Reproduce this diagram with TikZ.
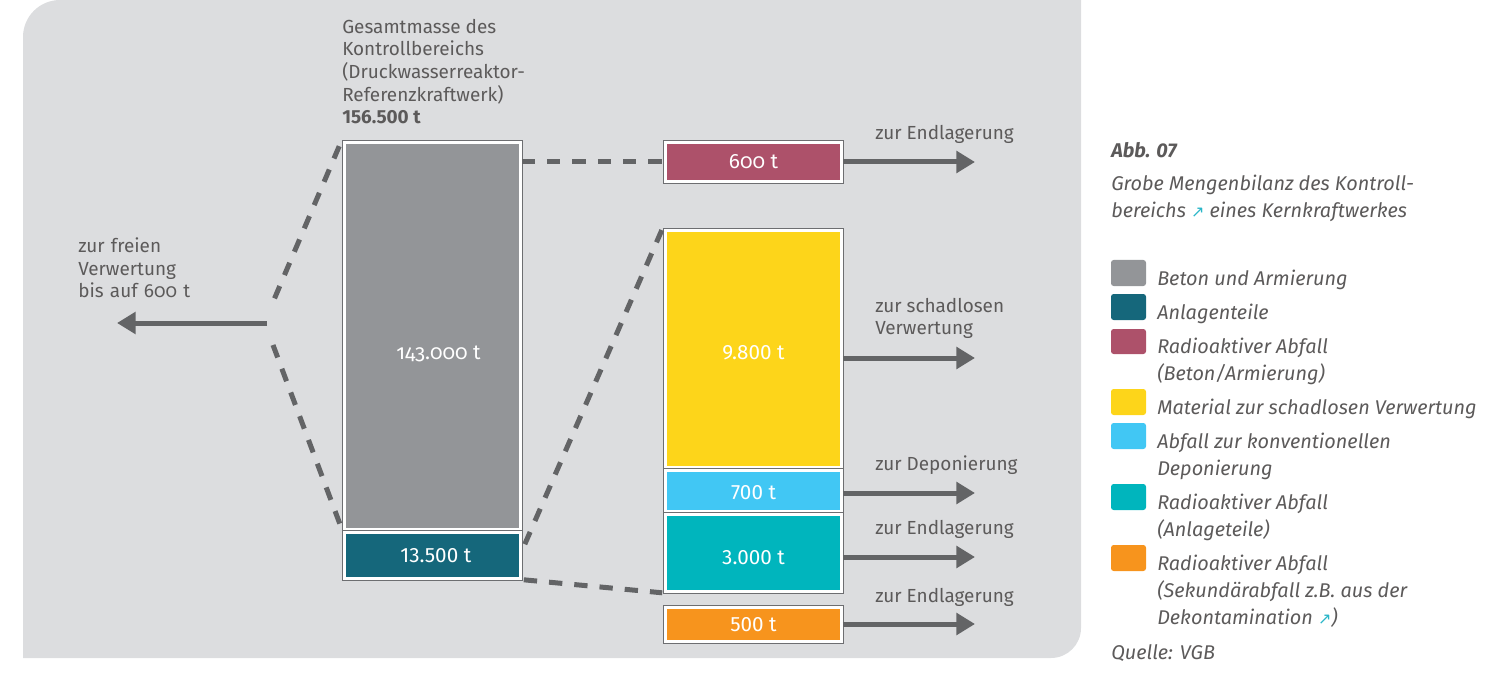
\documentclass[tikz,border=0pt]{standalone}
\usepackage{fontspec}
\setmainfont{Fira Sans}
\newfontfamily\symfont{DejaVu Sans}
\usetikzlibrary{arrows.meta}

\definecolor{panel}{HTML}{DCDDDF}
\definecolor{ink}{HTML}{5C5A5A}
\definecolor{frame}{HTML}{6D6E71}
\definecolor{flowgray}{HTML}{636466}
\definecolor{beton}{HTML}{939598}
\definecolor{anlage}{HTML}{15677B}
\definecolor{radrose}{HTML}{AD516A}
\definecolor{gelb}{HTML}{FDD51A}
\definecolor{hellblau}{HTML}{41C7F4}
\definecolor{tuerkis}{HTML}{00B5BD}
\definecolor{orange}{HTML}{F7941D}
\definecolor{linkcyan}{HTML}{2AB6C8}

\newcommand\extarrow{{\color{linkcyan}\symfont\fontsize{12}{12}\selectfont ↗}}
\newcommand\osf{\addfontfeatures{Numbers=OldStyle}}
% shift a figure label inside its box without changing the box's size
\newcommand\nudge[3]{\hspace*{#1}\raisebox{#2}[\height][\depth]{#3}}

\begin{document}
\begin{tikzpicture}[x=0.75pt,y=-0.75pt,
  txt/.style={text=ink, font=\fontsize{14.2}{17}\selectfont, inner sep=0, align=left, anchor=west},
  amount/.style={inner sep=0, text=white, font=\fontsize{15.5}{17}\selectfont,
    preaction={draw=frame, line width=3.6pt}, draw=white, line width=1.8pt},
  boxsize/.style 2 args={minimum width=#1*0.75pt, minimum height=#2*0.75pt},
  flow/.style={draw=flowgray, line width=3.75pt, -{Triangle[length=14pt,width=16pt]}},
  link/.style={draw=flowgray, line width=3.75pt, dash pattern=on 10pt off 9pt},
  legend/.style={text=ink, font=\fontsize{14.9}{20.25}\selectfont\itshape, anchor=west, inner sep=0, align=left},
  swatch/.style={rounded corners=2pt}]
\useasboundingbox (0,0) rectangle (1502,677);

% grey panel with two rounded corners
\fill[panel] (23,658) -- (23,37) arc[start angle=180,end angle=270,radius=37]
  -- (1081,0) -- (1081,628) arc[start angle=0,end angle=90,radius=30] -- cycle;

% control area: total mass
\node[amount, fill=beton, boxsize={176.2}{387.2}] (betonbox) at (432.5,336) {\nudge{9pt}{-13.5pt}{\osf 143.000 t}};
\node[amount, fill=anlage, boxsize={176.2}{46.2}] (anlagebox) at (432.5,555.5) {\nudge{5pt}{0pt}{13.500 t}};

% fractions
\node[amount, fill=radrose, boxsize={176.2}{39.2}] (radbox) at (753.5,162) {\osf 600 t};
\node[amount, fill=gelb, boxsize={176.2}{237.2}] (gelbbox) at (753.5,349) {\nudge{0pt}{-3pt}{9.800 t}};
\node[amount, fill=hellblau, boxsize={176.2}{41.2}] (blaubox) at (753.5,491) {\nudge{0pt}{-1.5pt}{700 t}};
\node[amount, fill=tuerkis, boxsize={176.2}{77.2}] (tuerkisbox) at (753.5,553) {\nudge{0pt}{-3.5pt}{3.000 t}};
\node[amount, fill=orange, boxsize={176.2}{34.2}] (orangebox) at (753.5,624.5) {500 t};

% heading above the control area
\node[txt] (gesamt) at (342,71.5) {Gesamtmasse des\\Kontrollbereichs\\(Druckwasserreaktor-\\Referenzkraftwerk)\\\textbf{156.500 t}};

% dashed links
\coordinate (lt) at (273,302);
\coordinate (lb) at (273,345);
\coordinate (fork) at (267,323);
\draw[link] ([shift={(-4,5)}]betonbox.north west) -- (lt);
\draw[link] (lb) -- ([shift={(-3,-6)}]betonbox.south west);
\draw[link] (betonbox.east |- radbox.west) -- (radbox.west);
\draw[link] ([shift={(3,13)}]anlagebox.north east) -- ([shift={(-2,0)}]gelbbox.north west);
\draw[link] ([shift={(2,0)}]anlagebox.south east) -- ([shift={(-2,0)}]tuerkisbox.south west);

% outgoing flows
\coordinate (free) at (117,323);
\draw[flow] (fork) -- (free);
\node[txt, text width=150pt] (freilabel) at (78,268) {zur freien\\Verwertung\\\osf bis auf 600 t};

\coordinate (e1) at (975,162);
\coordinate (e2) at (975,358);
\coordinate (e3) at (975,493);
\coordinate (e4) at (975,557);
\coordinate (e5) at (975,624);
\draw[flow] (radbox.east |- e1) -- (e1);
\draw[flow] (gelbbox.east |- e2) -- (e2);
\draw[flow] (blaubox.east |- e3) -- (e3);
\draw[flow] (tuerkisbox.east |- e4) -- (e4);
\draw[flow] (orangebox.east |- e5) -- (e5);

\node[txt] (l1) at (875,134.5) {zur Endlagerung};
\node[txt] (l2) at (875,318.5) {zur schadlosen\\Verwertung};
\node[txt] (l3) at (875,465.5) {zur Deponierung};
\node[txt] (l4) at (875,529.5) {zur Endlagerung};
\node[txt] (l5) at (875,597.5) {zur Endlagerung};

% caption
\node[legend, font=\fontsize{14.9}{20.25}\selectfont\bfseries\itshape] (abb) at (1111,150) {Abb. 07};
\node[legend] (titel) at (1111,198.5) {Grobe Mengenbilanz des Kontroll-\\bereichs \extarrow{} eines Kernkraftwerkes};

% legend
\fill[beton, swatch] (1111,260) rectangle (1146,286);
\fill[anlage, swatch] (1111,294) rectangle (1146,320);
\fill[radrose, swatch] (1111,329) rectangle (1146,354);
\fill[gelb, swatch] (1111,389) rectangle (1146,415);
\fill[hellblau, swatch] (1111,423) rectangle (1146,449);
\fill[tuerkis, swatch] (1111,484) rectangle (1146,510);
\fill[orange, swatch] (1111,545) rectangle (1146,571);

\node[legend] (k1) at (1157,280) {Beton und Armierung};
\node[legend] (k2) at (1157,314) {Anlagenteile};
\node[legend] (k3) at (1157,361) {Radioaktiver Abfall\\(Beton/Armierung)};
\node[legend] (k4) at (1157,409) {Material zur schadlosen Verwertung};
\node[legend] (k5) at (1157,456) {Abfall zur konventionellen\\Deponierung};
\node[legend] (k6) at (1157,517) {Radioaktiver Abfall\\(Anlageteile)};
\node[legend] (k7) at (1157,591.5) {Radioaktiver Abfall\\(Sekundärabfall z.B. aus der\\Dekontamination \extarrow)};
\node[legend] (quelle) at (1111,653) {Quelle: VGB};
\end{tikzpicture}
\end{document}
